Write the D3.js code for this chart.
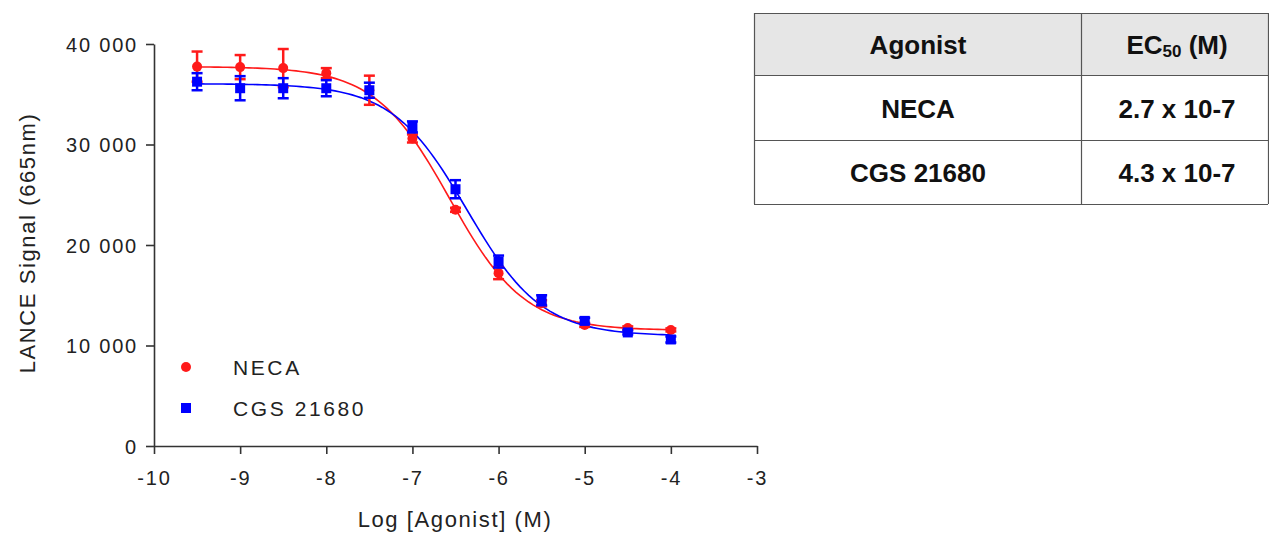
<!DOCTYPE html>
<html>
<head>
<meta charset="utf-8">
<script src="https://cdn.jsdelivr.net/npm/d3@7"></script>
<style>
  html, body { margin: 0; padding: 0; background: #fff; }
  svg { display: block; font-family: Arial, "Liberation Sans", sans-serif; }
  .axis path, .axis line { stroke: #333; stroke-width: 1.6; }
  .axis text { font-size: 20px; fill: #222; letter-spacing: 1.8px; }
  .title { font-size: 22px; fill: #222; letter-spacing: 1.6px; }
  .legend text { font-size: 21px; fill: #222; letter-spacing: 2.6px; }
  .tbl text { font-size: 26px; font-weight: bold; fill: #111; }
</style>
</head>
<body>
<svg width="1269" height="533"></svg>
<script>
// log concentrations (M)
const logConc = [-9.5, -9, -8.5, -8, -7.5, -7, -6.5, -6, -5.5, -5, -4.5, -4];

// NECA mean and error
const necaMean = [37750, 37700, 37600, 37100, 35400, 30600, 23500, 17200, 14200, 12050, 11750, 11550];
const necaErr  = [1500, 1200, 1900, 500, 1450, 400, 200, 600, 300, 200, 150, 150];

// CGS 21680 mean and error
const cgsMean = [36250, 35600, 35600, 35600, 35400, 31750, 25550, 18350, 14500, 12450, 11300, 10600];
const cgsErr  = [850, 1200, 1000, 800, 750, 550, 900, 600, 500, 300, 200, 300];

// 4PL fit parameters: top, bottom, logEC50, hill
const necaFit = [37750, 11500, Math.log10(2.7e-7), 1];
const cgsFit  = [36050, 10950, Math.log10(4.3e-7), 1];

const xTicks = [-10, -9, -8, -7, -6, -5, -4, -3];
const yTicks = [0, 10000, 20000, 30000, 40000];

const tableHead = ['Agonist', 'EC50 (M)'];
const tableRows = [['NECA', '2.7 x 10-7'], ['CGS 21680', '4.3 x 10-7']];

const svg = d3.select('svg');

const x = d3.scaleLinear().domain([-10, -3]).range([154, 757]);
const y = d3.scaleLinear().domain([0, 40000]).range([446, 44]);

// axes
const xAxis = svg.append('g')
  .attr('class', 'axis')
  .attr('transform', 'translate(0,446)')
  .call(d3.axisBottom(x).tickValues(xTicks).tickSize(8).tickSizeOuter(0)
    .tickFormat(d => String(d).replace('\u2212', '-')));
xAxis.selectAll('text').attr('dy', null).attr('y', 32).attr('dominant-baseline', 'central');

const yAxis = svg.append('g')
  .attr('class', 'axis')
  .attr('transform', 'translate(154,0)')
  .call(d3.axisLeft(y).tickValues(yTicks).tickSize(8).tickSizeOuter(0).tickPadding(8)
    .tickFormat(d => d3.format(',')(d).replace(',', ' ')));
yAxis.selectAll('text').attr('dy', null).attr('dominant-baseline', 'central');

svg.append('text')
  .attr('class', 'title')
  .attr('x', 455).attr('y', 527)
  .attr('text-anchor', 'middle')
  .text('Log [Agonist] (M)');

svg.append('text')
  .attr('class', 'title')
  .attr('transform', 'translate(35,243) rotate(-90)')
  .attr('text-anchor', 'middle')
  .text('LANCE Signal (665nm)');

// fitted curves
function fourPL(p, lx) {
  return p[1] + (p[0] - p[1]) / (1 + Math.pow(10, (lx - p[2]) * p[3]));
}
const curveX = d3.range(-9.5, -3.999, 0.05);
const line = d3.line().x(d => x(d[0])).y(d => y(d[1]));

const series = [
  { mean: necaMean, err: necaErr, fit: necaFit, color: '#ff1a1a', shape: 'circle' },
  { mean: cgsMean, err: cgsErr, fit: cgsFit, color: '#0000ff', shape: 'square' }
];

series.forEach(s => {
  svg.append('path')
    .datum(curveX.map(lx => [lx, fourPL(s.fit, lx)]))
    .attr('fill', 'none')
    .attr('stroke', s.color)
    .attr('stroke-width', 1.6)
    .attr('d', line);
});

series.forEach(s => {
  const g = svg.append('g');
  const pts = logConc.map((lx, i) => ({ lx, v: s.mean[i], e: s.err[i] }));
  // error bars
  g.selectAll('.eb').data(pts).join('line')
    .attr('x1', d => x(d.lx)).attr('x2', d => x(d.lx))
    .attr('y1', d => y(d.v - d.e)).attr('y2', d => y(d.v + d.e))
    .attr('stroke', s.color).attr('stroke-width', 2.5);
  g.selectAll('.capT').data(pts).join('line')
    .attr('x1', d => x(d.lx) - 5.5).attr('x2', d => x(d.lx) + 5.5)
    .attr('y1', d => y(d.v + d.e)).attr('y2', d => y(d.v + d.e))
    .attr('stroke', s.color).attr('stroke-width', 2.5);
  g.selectAll('.capB').data(pts).join('line')
    .attr('x1', d => x(d.lx) - 5.5).attr('x2', d => x(d.lx) + 5.5)
    .attr('y1', d => y(d.v - d.e)).attr('y2', d => y(d.v - d.e))
    .attr('stroke', s.color).attr('stroke-width', 2.5);
  if (s.shape === 'circle') {
    g.selectAll('.m').data(pts).join('circle')
      .attr('cx', d => x(d.lx)).attr('cy', d => y(d.v)).attr('r', 5)
      .attr('fill', s.color);
  } else {
    g.selectAll('.m').data(pts).join('rect')
      .attr('x', d => x(d.lx) - 5).attr('y', d => y(d.v) - 5)
      .attr('width', 10).attr('height', 10)
      .attr('fill', s.color);
  }
});

// legend
const legend = svg.append('g').attr('class', 'legend');
const legendNames = ['NECA', 'CGS 21680'];
legendNames.forEach((name, i) => {
  const ly = 367 + i * 41;
  if (i === 0) {
    legend.append('circle').attr('cx', 186).attr('cy', ly).attr('r', 5).attr('fill', series[0].color);
  } else {
    legend.append('rect').attr('x', 181).attr('y', ly - 5).attr('width', 10).attr('height', 10).attr('fill', series[1].color);
  }
  legend.append('text').attr('x', 233).attr('y', ly).attr('dominant-baseline', 'central').text(name);
});

// EC50 table
const tbl = svg.append('g').attr('class', 'tbl');
const colX = [754, 1081, 1268];
const rowY = [13, 75, 140, 204];
tbl.append('rect').attr('x', colX[0]).attr('y', rowY[0])
  .attr('width', colX[2] - colX[0]).attr('height', rowY[1] - rowY[0])
  .attr('fill', '#e6e6e6');
rowY.forEach(ry => {
  tbl.append('line').attr('x1', colX[0]).attr('x2', colX[2]).attr('y1', ry + 0.5).attr('y2', ry + 0.5)
    .attr('stroke', '#555').attr('stroke-width', 1.2);
});
colX.forEach(cx => {
  tbl.append('line').attr('x1', cx + 0.5).attr('x2', cx + 0.5).attr('y1', rowY[0]).attr('y2', rowY[3])
    .attr('stroke', '#555').attr('stroke-width', 1.2);
});
const cx0 = 918, cx1 = 1177;
tbl.append('text').attr('x', cx0).attr('y', 45).attr('text-anchor', 'middle')
  .attr('dominant-baseline', 'central').text(tableHead[0]);
const ecText = tbl.append('text').attr('x', cx1).attr('y', 45).attr('text-anchor', 'middle')
  .attr('dominant-baseline', 'central');
ecText.append('tspan').text(tableHead[1].slice(0, 2));
ecText.append('tspan').attr('font-size', '17px').attr('dy', 6).text(tableHead[1].slice(2, 4));
ecText.append('tspan').attr('dy', -6).text(tableHead[1].slice(4));
tableRows.forEach((r, i) => {
  const ty = (rowY[i + 1] + rowY[i + 2]) / 2 + 1;
  tbl.append('text').attr('x', cx0).attr('y', ty).attr('text-anchor', 'middle')
    .attr('dominant-baseline', 'central').text(r[0]);
  tbl.append('text').attr('x', cx1).attr('y', ty).attr('text-anchor', 'middle')
    .attr('dominant-baseline', 'central').text(r[1]);
});
</script>
</body>
</html>
